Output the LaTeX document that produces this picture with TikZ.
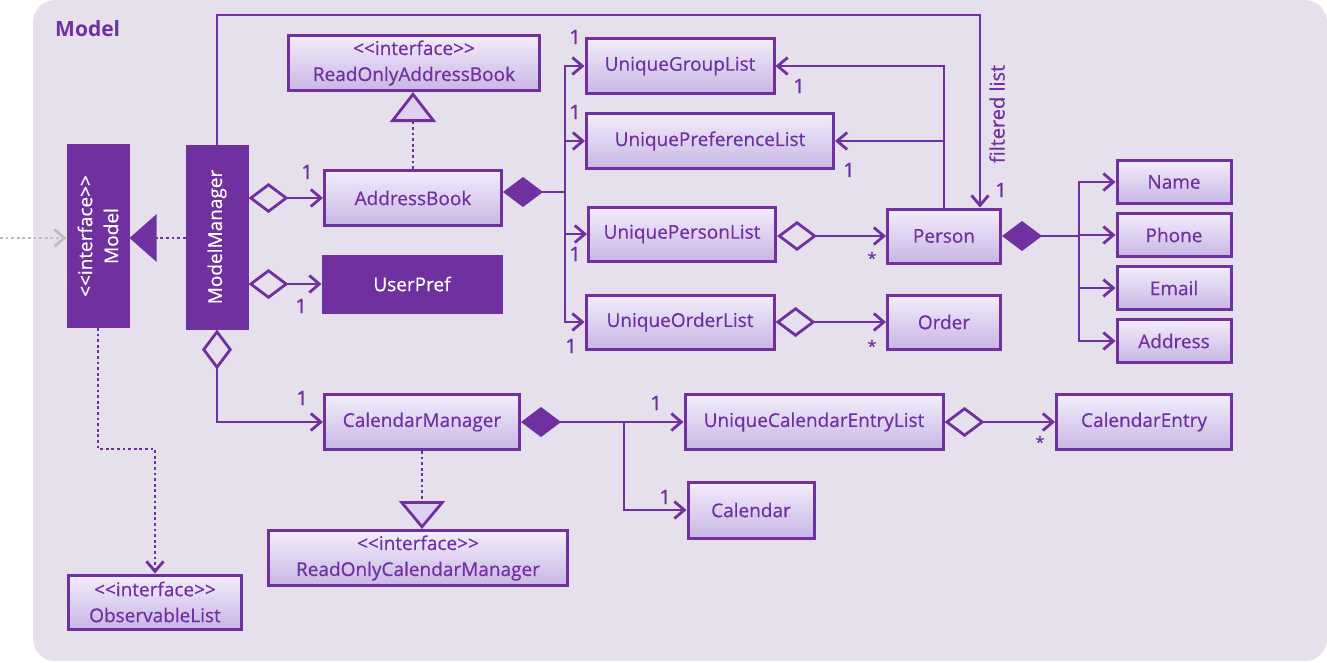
\documentclass[tikz,border=0pt]{standalone}
\usepackage{fontspec}
\setmainfont{Open Sans}
\newfontfamily\boxfam{Open Sans}[FakeBold=0.5]
\usetikzlibrary{arrows.meta}
\definecolor{mp}{RGB}{112,48,160}
\definecolor{panelbg}{RGB}{229,224,236}
\definecolor{btop}{RGB}{242,237,251}
\definecolor{bbot}{RGB}{200,182,229}
\definecolor{trifill}{RGB}{222,208,241}
\definecolor{gin}{RGB}{190,190,190}
\newcommand\boxfont{\boxfam\fontsize{19}{26}\selectfont}
\newcommand\lblfont{\boxfam\fontsize{20}{22}\selectfont}
\newcommand\stereo[1]{\char60\kern0pt\char60#1\char62\kern0pt\char62}
\begin{document}
\begin{tikzpicture}[x=1pt,y=-1pt,
  box/.style={draw=mp, line width=3pt, top color=btop, bottom color=bbot, text=mp, inner sep=0pt, font=\boxfont, align=center},
  dbox/.style={draw=mp, fill=mp, line width=3pt, text=white, inner sep=0pt, font=\boxfont, align=center},
  con/.style={draw=mp, line width=2.8pt},
  dotcon/.style={draw=mp, line width=2.8pt, dash pattern=on 2.8pt off 2.8pt},
  arr/.style={con, -{Straight Barb[length=10pt,width=17pt]}},
  odarr/.style={con, {Diamond[open,length=40pt,width=30pt]}-{Straight Barb[length=10pt,width=17pt]}},
  cdarr/.style={con, {Diamond[length=40pt,width=30pt]}-{Straight Barb[length=10pt,width=17pt]}},
  cd/.style={con, {Diamond[length=40pt,width=30pt]}-},
  lbl/.style={text=mp, font=\lblfont, inner sep=0pt},
  star/.style={text=mp, font=\boxfam\fontsize{16}{17}\selectfont, inner sep=0pt}
]
\useasboundingbox (0,0) rectangle (1327,662);
\fill[panelbg, rounded corners=22pt] (33,0) rectangle (1327,661);
\node[anchor=west, text=mp, font=\fontsize{21}{24}\selectfont\bfseries, inner sep=0pt] (title) at (55,29) {Model};

% nodes
\node[dbox, minimum width=60pt, minimum height=181pt] (model) at (98,236) {};
\node[text=white, font=\boxfont, align=center, rotate=90, inner sep=0pt] (modeltxt) at (98,236) {\stereo{interface}\\Model};
\node[dbox, minimum width=60pt, minimum height=182pt] (mm) at (217,237) {};
\node[text=white, font=\boxfont, rotate=90, inner sep=0pt] (mmtxt) at (217,237) {ModelManager};

\node[box, minimum width=251pt, minimum height=55pt] (roab) at (414,63) {\stereo{interface}\\ReadOnlyAddressBook};
\node[box, minimum width=177pt, minimum height=55pt] (ab) at (413,198) {AddressBook};
\node[dbox, minimum width=178pt, minimum height=56pt] (up) at (412,284) {UserPref};

\node[box, minimum width=188pt, minimum height=55pt] (ugl) at (680,66) {UniqueGroupList};
\node[box, minimum width=247pt, minimum height=55pt] (upl) at (710,141) {UniquePreferenceList};
\node[box, minimum width=187pt, minimum height=54pt] (upsl) at (682,234) {UniquePersonList};
\node[box, minimum width=188pt, minimum height=54pt] (uol) at (680,322) {UniqueOrderList};
\node[box, minimum width=113pt, minimum height=54pt] (person) at (944,236) {Person};
\node[box, minimum width=113pt, minimum height=54pt] (order) at (944,322) {Order};

\node[box, minimum width=114pt, minimum height=43pt] (name) at (1174,182) {Name};
\node[box, minimum width=114pt, minimum height=43pt] (phone) at (1174,235) {Phone};
\node[box, minimum width=114pt, minimum height=43pt] (email) at (1174,288) {Email};
\node[box, minimum width=114pt, minimum height=43pt] (address) at (1174,341) {Address};

\node[box, minimum width=195pt, minimum height=55pt] (cm) at (422,422) {CalendarManager};
\node[box, minimum width=299pt, minimum height=55pt] (rocm) at (418,558) {\stereo{interface}\\ReadOnlyCalendarManager};
\node[box, minimum width=173pt, minimum height=54pt] (obs) at (155,602) {\stereo{interface}\\ObservableList};
\node[box, minimum width=258pt, minimum height=55pt] (uce) at (814,422) {UniqueCalendarEntryList};
\node[box, minimum width=126pt, minimum height=56pt] (cal) at (751,510) {Calendar};
\node[box, minimum width=175pt, minimum height=55pt] (ce) at (1144,422) {CalendarEntry};

% coordinates
\coordinate (gstart) at (0,238);
\coordinate (top) at (980,15);
\coordinate (abj) at (565,192);
\coordinate (pj) at (1079,236);
\coordinate (cj) at (624,422);
\coordinate (obsturn) at (98,449);

% connectors
\draw[draw=gin, line width=2.8pt, dash pattern=on 2.8pt off 2.8pt, -{Straight Barb[length=10pt,width=17pt]}] (gstart) -- (gstart -| model.west);
\draw[dotcon, -{Triangle[length=27pt,width=47pt]}] (mm.west |- gstart) -- (model.east |- gstart);
\draw[arr] (mm.north) |- (top) -- (top |- person.north);
\draw[odarr] (mm.east |- ab) -- (ab.west);
\draw[odarr] (mm.east |- up) -- (up.west);
\draw[odarr] (mm.south) |- (cm.west);
\draw[dotcon, -{Straight Barb[length=10pt,width=17pt]}] (model.south) -- (obsturn) -| (obs.north);
\draw[dotcon, -{Triangle[open,length=30pt,width=46pt,fill=trifill]}] (ab.north) -- (ab.north |- roab.south);
\draw[dotcon, -{Triangle[open,length=28pt,width=46pt,fill=trifill]}] (cm.south) -- (cm.south |- rocm.north);

\draw[cd] (ab.east |- abj) -- (abj);
\draw[arr] (abj) |- (ugl.west);
\draw[arr] (abj) |- (upl.west);
\draw[arr] (abj) |- (upsl.west);
\draw[arr] (abj) |- (uol.west);

\draw[odarr] (upsl.east |- person) -- (person.west);
\draw[odarr] (uol.east |- order) -- (order.west);
\draw[arr] (person.north) |- (ugl.east);
\draw[arr] (person.north |- upl.east) -- (upl.east);

\draw[cd] (person.east) -- (pj);
\draw[arr] (pj) |- (name.west);
\draw[arr] (pj) |- (phone.west);
\draw[arr] (pj) |- (email.west);
\draw[arr] (pj) |- (address.west);

\draw[cdarr] (cm.east) -- (uce.west);
\draw[arr] (cj) |- (cal.west);
\draw[odarr] (uce.east) -- (ce.west);

% labels
\node[lbl] (l1) at (307,172) {1};
\node[lbl] (l2) at (301,306) {1};
\node[lbl] (l3) at (302,398) {1};
\node[lbl] (l4) at (575,37) {1};
\node[lbl] (l5) at (575,112) {1};
\node[lbl] (l6) at (575,254) {1};
\node[lbl] (l7) at (571,346) {1};
\node[lbl] (l8) at (799,86) {1};
\node[lbl] (l9) at (849,170) {1};
\node[lbl] (l10) at (1001,190) {1};
\node[lbl] (l11) at (656,403) {1};
\node[lbl] (l12) at (665,497) {1};
\node[star] (s1) at (872,258) {*};
\node[star] (s2) at (872,346) {*};
\node[star] (s3) at (1040,442) {*};
\node[lbl, rotate=90] (fl) at (997,114) {filtered list};
\end{tikzpicture}
\end{document}
